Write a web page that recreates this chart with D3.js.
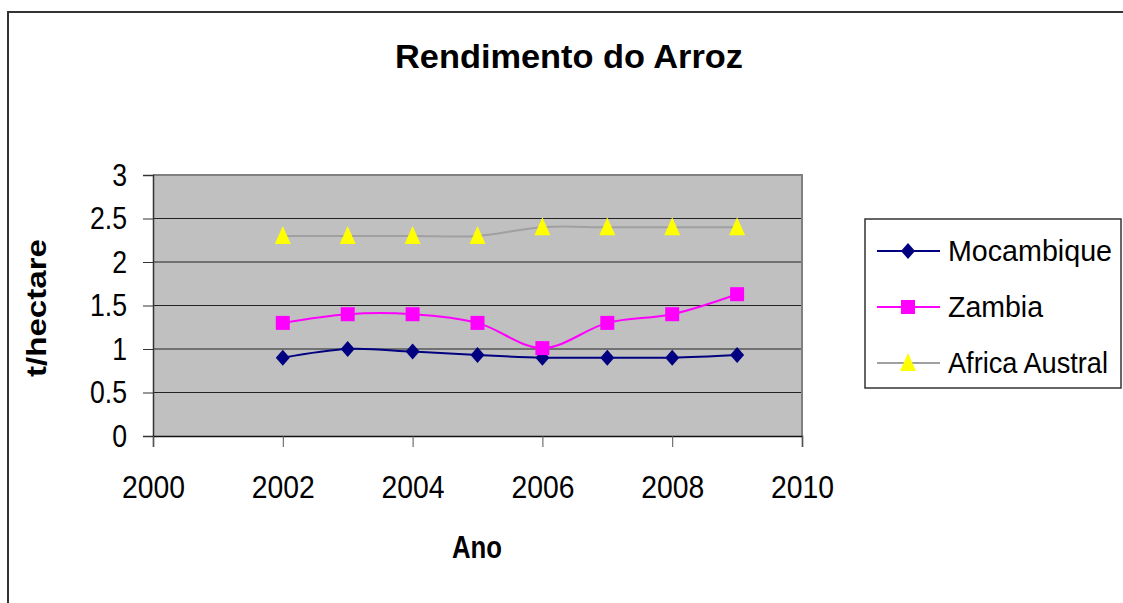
<!DOCTYPE html>
<html><head><meta charset="utf-8">
<script src="https://cdn.jsdelivr.net/npm/d3@7/dist/d3.min.js"></script>
<style>body{margin:0;background:#fff}svg{display:block;font-family:"Liberation Sans",Arial,sans-serif}</style>
</head><body><svg id="c" width="1123" height="603"></svg>
<script>
const years = [2002, 2003, 2004, 2005, 2006, 2007, 2008, 2009];
const mocambique = [0.9, 1.0, 0.97, 0.93, 0.9, 0.9, 0.9, 0.93];
const zambia = [1.3, 1.4, 1.4, 1.3, 1.01, 1.3, 1.4, 1.63];
const africaAustral = [2.3, 2.3, 2.3, 2.3, 2.4, 2.4, 2.4, 2.4];
const xTicks = [2000, 2002, 2004, 2006, 2008, 2010];
const yTicks = [0, 0.5, 1, 1.5, 2, 2.5, 3];
const seriesNames = ["Mocambique", "Zambia", "Africa Austral"];
const title = "Rendimento do Arroz";
const xTitle = "Ano", yTitle = "t/hectare";

const svg = d3.select("#c");
const L = 153, R = 802, T = 175, B = 436;
const x = d3.scaleLinear().domain([2000, 2010]).range([L, R]);
const y = d3.scaleLinear().domain([0, 3]).range([B, T]);

svg.append("path").attr("d", `M8,603 V12 H1123`).attr("fill","none").attr("stroke","#333").attr("stroke-width",2);

svg.append("rect").attr("x",L).attr("y",T).attr("width",R-L).attr("height",B-T).attr("fill","#c0c0c0");
svg.append("g").selectAll("line").data(yTicks.filter(d=>d>0&&d<3)).join("line")
  .attr("x1",L).attr("x2",R).attr("y1",d=>y(d)).attr("y2",d=>y(d)).attr("stroke","#222").attr("stroke-width",1);
svg.append("path").attr("d",`M${L},${T} H${R} V${B}`).attr("fill","none").attr("stroke","#808080").attr("stroke-width",2);

const yAxis = d3.axisLeft(y).tickValues(yTicks).tickSize(10).tickPadding(16).tickFormat(d=>String(d));
const gy = svg.append("g").attr("transform",`translate(${L},0)`).call(yAxis);
gy.select(".domain").attr("stroke","#333").attr("stroke-width",1.5);
gy.selectAll(".tick line").attr("stroke","#333");
gy.selectAll(".tick text").attr("font-size",31).attr("fill","#000").attr("dy","0.33em")
  .attr("x",-26/0.86).attr("transform","scale(0.86,1)");

const xAxis = d3.axisBottom(x).tickValues(xTicks).tickSize(11).tickPadding(0).tickFormat(d3.format("d"));
const gx = svg.append("g").attr("transform",`translate(0,${B})`).call(xAxis);
gx.select(".domain").attr("stroke","#111").attr("stroke-width",1.5);
gx.selectAll(".tick line").attr("stroke","#555");
gx.selectAll(".tick text").attr("font-size",32).attr("fill","#000").attr("dy",null).attr("y",62)
  .attr("textLength",63).attr("lengthAdjust","spacingAndGlyphs");

svg.append("text").attr("x",569).attr("y",68).attr("text-anchor","middle").attr("font-weight","bold")
  .attr("font-size",34).attr("textLength",348).attr("lengthAdjust","spacingAndGlyphs").text(title);
svg.append("text").attr("x",477).attr("y",558).attr("text-anchor","middle").attr("font-weight","bold")
  .attr("font-size",31).attr("textLength",50).attr("lengthAdjust","spacingAndGlyphs").text(xTitle);
svg.append("text").attr("transform","translate(46,308) rotate(-90)").attr("text-anchor","middle").attr("font-weight","bold")
  .attr("font-size",27).attr("textLength",138).attr("lengthAdjust","spacingAndGlyphs").text(yTitle);

const colors = ["#000080","#ff00ff","#a0a0a0"];
const markerFill = ["#000080","#ff00ff","#ffff00"];
const data = [mocambique, zambia, africaAustral];
const line = d3.line().x((d,i)=>x(years[i])).y(d=>y(d)).curve(d3.curveCatmullRom.alpha(0));

function marker(g, k, cx, cy){
  if(k===0){
    g.append("path").attr("d",`M${cx},${cy-8} L${cx+7},${cy} L${cx},${cy+8} L${cx-7},${cy} Z`).attr("fill",markerFill[k]);
  } else if(k===1){
    g.append("rect").attr("x",cx-7).attr("y",cy-7).attr("width",14).attr("height",14).attr("fill",markerFill[k]);
  } else {
    g.append("path").attr("d",`M${cx},${cy-10} L${cx+8},${cy+8} L${cx-8},${cy+8} Z`).attr("fill",markerFill[k]);
  }
}

data.forEach((vals,k)=>{
  svg.append("path").datum(vals).attr("d",line).attr("fill","none").attr("stroke",colors[k]).attr("stroke-width",2);
});
data.forEach((vals,k)=>{
  const g = svg.append("g");
  vals.forEach((v,i)=>marker(g,k,x(years[i]),y(v)));
});

const lg = svg.append("g");
lg.append("rect").attr("x",865).attr("y",219).attr("width",256).attr("height",169).attr("fill","#fff").attr("stroke","#333").attr("stroke-width",1.5);
const legY = [251,307,363];
const legW = [164,95,160];
seriesNames.forEach((n,k)=>{
  lg.append("line").attr("x1",877).attr("x2",940).attr("y1",legY[k]).attr("y2",legY[k]).attr("stroke",colors[k]).attr("stroke-width",2);
  marker(lg,k,908,legY[k]);
  lg.append("text").attr("x",948).attr("y",legY[k]+10).attr("font-size",29).attr("textLength",legW[k])
    .attr("lengthAdjust","spacingAndGlyphs").text(n);
});
</script></body></html>
